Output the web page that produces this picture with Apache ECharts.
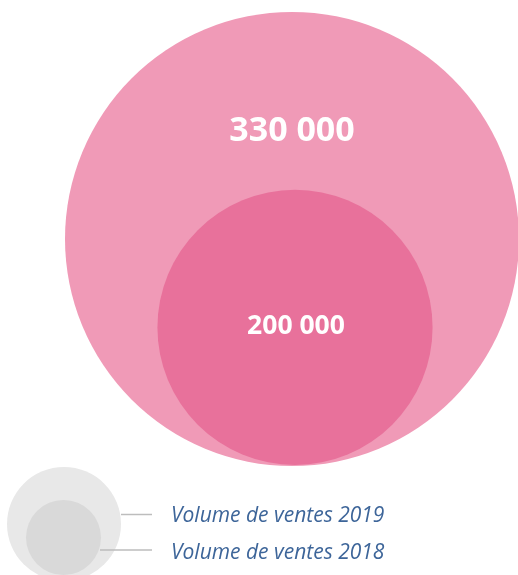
<!DOCTYPE html>
<html>
<head>
<meta charset="utf-8">
<script src="https://cdn.jsdelivr.net/npm/echarts@6/dist/echarts.min.js"></script>
<style>
  html, body { margin: 0; padding: 0; background: #fff; }
  #chart { width: 518px; height: 575px; }
</style>
</head>
<body>
<div id="chart"></div>
<script>
// volumes de ventes, le plus grand d'abord (dessiné en dessous)
var years = ['2019', '2018'];
var volumes = [330000, 200000];
var bubbleColors = ['#F09AB7', '#E8719B'];
var legendLabels = ['Volume de ventes 2019', 'Volume de ventes 2018'];

var dom = document.getElementById('chart');
var myChart = echarts.init(dom, null, { renderer: 'canvas' });

var gridTop = 12, gridHeight = 454;
var yMax = volumes[0] * 2;
var pxPerUnit = gridHeight / yMax;

function fmt(v) {
  return String(v).replace(/\B(?=(\d{3})+(?!\d))/g, ' ');
}

var option = {
  animation: false,
  grid: { left: 66, top: gridTop, width: 454, height: gridHeight },
  xAxis: { type: 'value', min: -1, max: 1, show: false },
  yAxis: { type: 'value', min: 0, max: yMax, show: false },
  series: [{
    type: 'scatter',
    symbol: 'circle',
    // rayon proportionnel au volume, bulles posées sur la même base
    symbolSize: function (val) { return val[1] * 2 * pxPerUnit; },
    data: volumes.map(function (v, i) {
      return {
        name: years[i],
        value: [0, v],
        symbolOffset: i === 0 ? [0, 0] : [3, -1],
        itemStyle: { color: bubbleColors[i], opacity: 1 },
        label: i === 0
          ? { offset: [0, -108], fontSize: 34 }
          : { offset: [1, -1], fontSize: 26.5 }
      };
    }),
    label: {
      show: true,
      position: 'inside',
      color: '#fff',
      fontFamily: 'Open Sans',
      fontWeight: 'bold',
      formatter: function (p) { return fmt(p.value[1]); }
    },
    emphasis: { disabled: true }
  }],
  graphic: [
    { type: 'circle', shape: { cx: 64, cy: 524, r: 57 }, style: { fill: '#E8E8E8' } },
    { type: 'circle', shape: { cx: 63.5, cy: 537.5, r: 37.5 }, style: { fill: '#D9D9D9' } },
    { type: 'line', shape: { x1: 121, y1: 514.5, x2: 152, y2: 514.5 }, style: { stroke: '#BDBDBD', lineWidth: 1.5 } },
    { type: 'line', shape: { x1: 100, y1: 550, x2: 152, y2: 550 }, style: { stroke: '#BDBDBD', lineWidth: 1.5 } },
    { type: 'text', x: 171, y: 516, style: { text: legendLabels[0], fill: '#3D6599', font: 'italic 21px "Open Sans"', verticalAlign: 'middle' } },
    { type: 'text', x: 171, y: 553, style: { text: legendLabels[1], fill: '#3D6599', font: 'italic 21px "Open Sans"', verticalAlign: 'middle' } }
  ]
};

myChart.setOption(option);
window.addEventListener('resize', myChart.resize);
</script>
</body>
</html>
